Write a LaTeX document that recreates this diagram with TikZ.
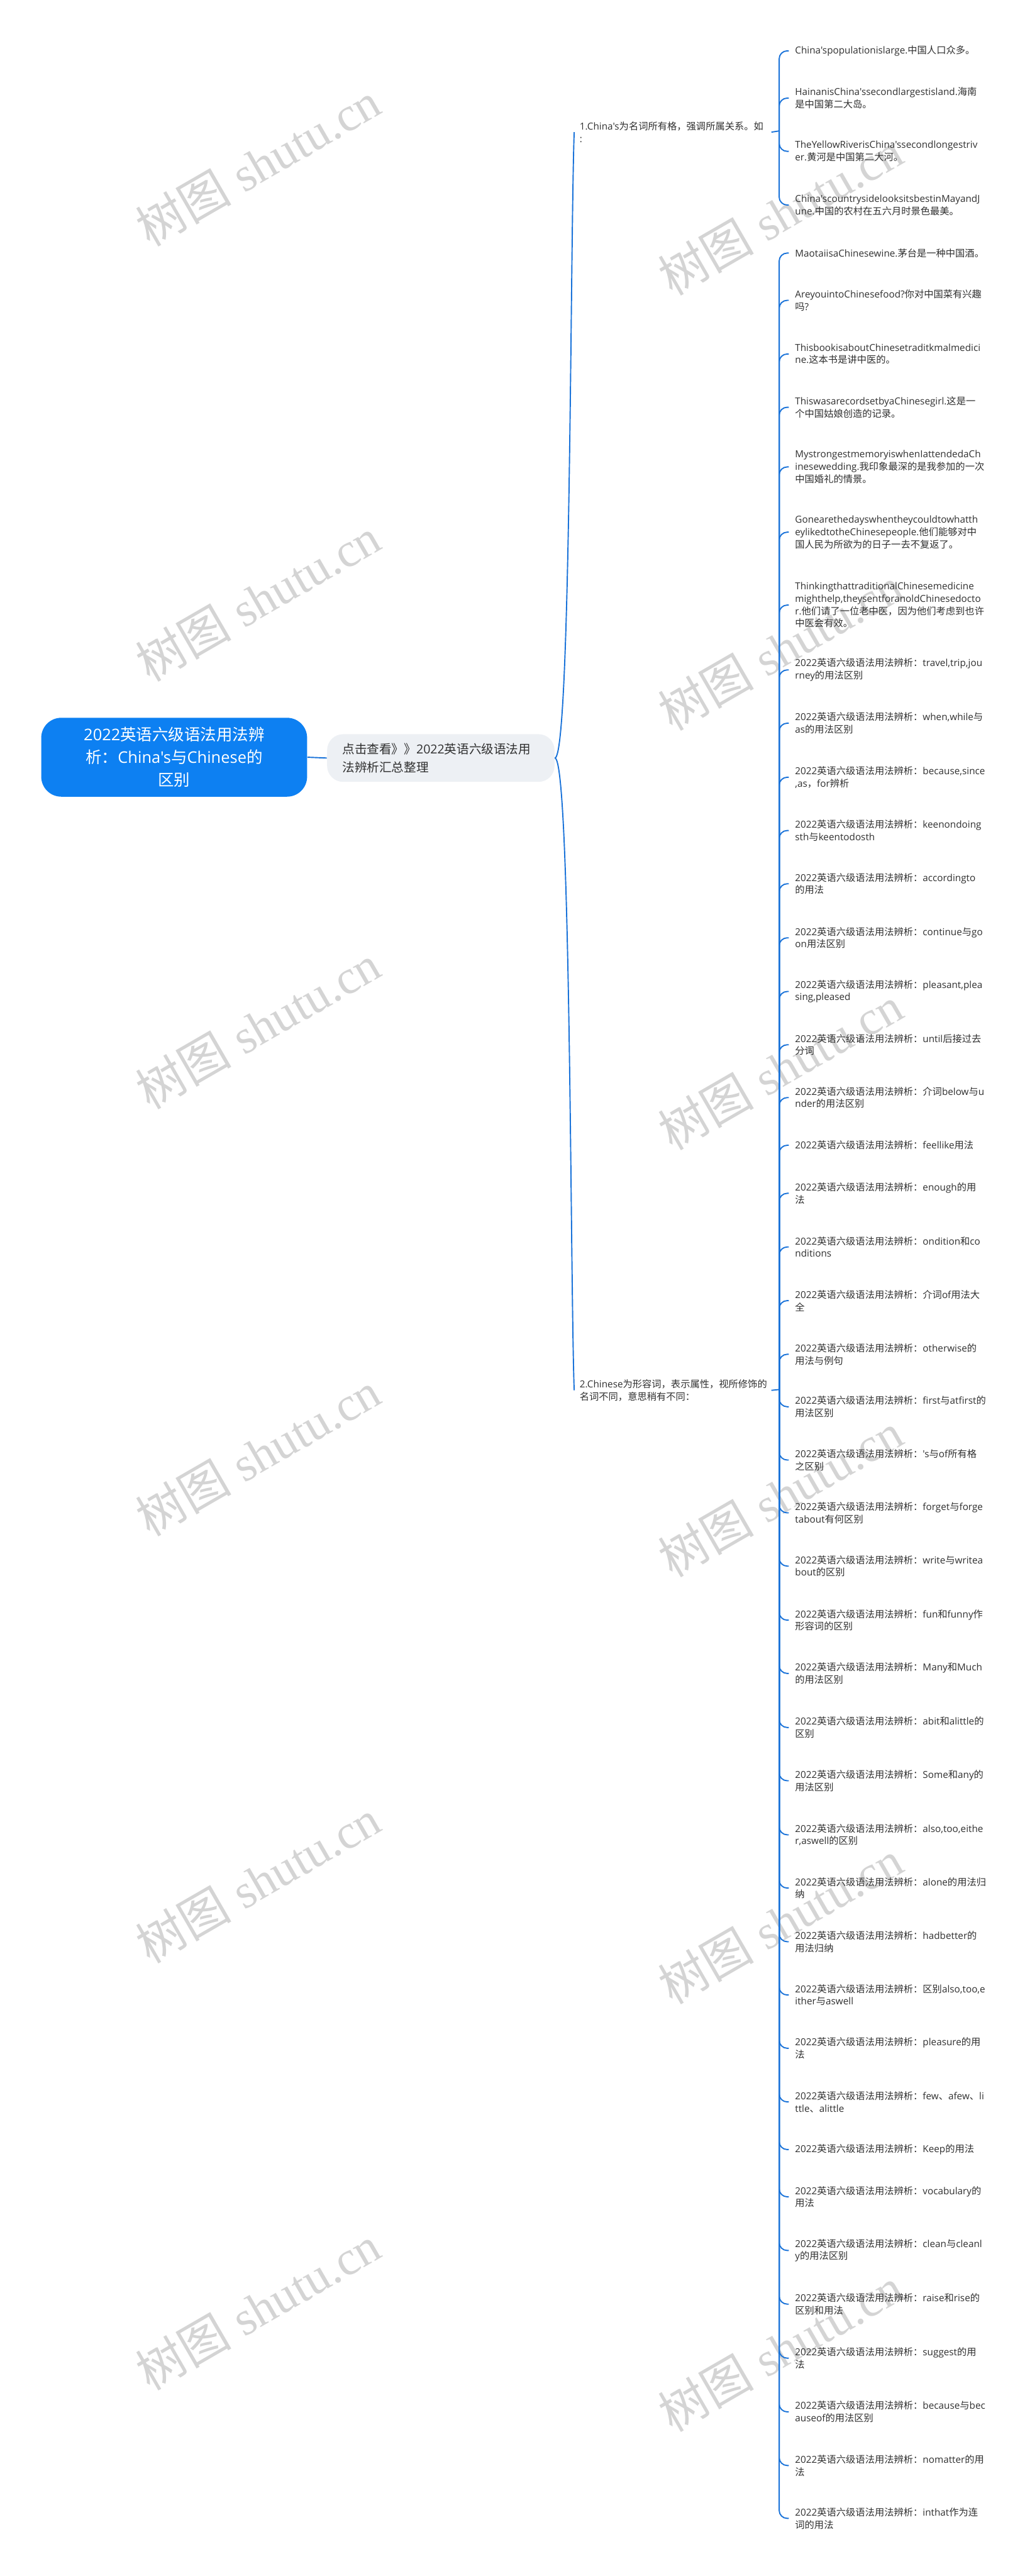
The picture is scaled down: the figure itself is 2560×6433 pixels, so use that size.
\documentclass[tikz,border=0pt]{standalone}
\usepackage{fontspec}
\newfontfamily\latf{Open Sans}
\newfontfamily\cjkf{Noto Sans CJK SC}
\newfontfamily\wmserif{Liberation Serif}
\XeTeXinterchartokenstate=1
\newXeTeXintercharclass\cjkcls
\newcount\cjkcc
\def\setcjkrange#1#2{\cjkcc=#1\relax\loop\XeTeXcharclass\cjkcc=\cjkcls\relax\ifnum\cjkcc<#2\advance\cjkcc by 1\repeat}
\setcjkrange{"3000}{"303F}
\setcjkrange{"4E00}{"9FFF}
\setcjkrange{"FF00}{"FFEF}
\XeTeXinterchartoks 0 \cjkcls = {\cjkf}
\XeTeXinterchartoks 4095 \cjkcls = {\cjkf}
\XeTeXinterchartoks \cjkcls 0 = {\latf}
\XeTeXinterchartoks \cjkcls 4095 = {\latf}
\definecolor{linec}{HTML}{1A73D9}
\definecolor{rootc}{HTML}{0D80F2}
\definecolor{midc}{HTML}{EDF0F4}
\definecolor{textc}{HTML}{303030}
\definecolor{wmc}{HTML}{D4D4D4}
\tikzset{
 conn/.style={draw=linec, line width=0.75pt, rounded corners=5pt},
 leafnode/.style={anchor=west, inner xsep=3.75pt, inner ysep=0pt, align=left, font=\latf\fontsize{6pt}{7.75pt}\selectfont, text=textc},
 branchnode/.style={anchor=west, inner xsep=3.25pt, inner ysep=0pt, align=left, text width=116.25pt, font=\latf\fontsize{6pt}{8pt}\selectfont, text=textc},
 rootnode/.style={fill=rootc, text=white, rounded corners=12.5pt, minimum width=166pt, minimum height=49.25pt, align=center, font=\latf\fontsize{10pt}{14.25pt}\selectfont, inner sep=0pt},
 midnode/.style={fill=midc, text=textc, rounded corners=10pt, minimum height=29.75pt, text width=123pt, inner xsep=9.5pt, align=left, font=\latf\fontsize{7.7pt}{11.5pt}\selectfont},
 wm/.style={text=wmc, rotate=30, font=\cjkf\fontsize{30pt}{30pt}\selectfont, inner sep=0pt}
}
\newcommand\lf[4]{\node[leafnode] (#1) at (1970,#2) {#3}; \draw[conn] (#4) |- (#1.west);}
\newcommand\gp{2022英语六级语法用法辨析：}
\begin{document}
\begin{tikzpicture}[x=0.25pt,y=-0.25pt]
\fill[white] (0,0) rectangle (2560,6433);
\useasboundingbox (0,0) rectangle (2560,6433);
% watermarks
\foreach \yy in {410,1497,2564,3631,4698,5764}{\node[wm] at (644,\yy) {树图 {\wmserif shutu.cn}};}
\foreach \yy in {533,1620,2667,3733,4800,5867}{\node[wm] at (1949,\yy) {树图 {\wmserif shutu.cn}};}
% main nodes
\node[rootnode] (root) at (435,1891) {2022英语六级语法用法辨\\析：China's与Chinese的\\区别};
\node[midnode] (mid) at (1101,1893) {点击查看》》2022英语六级语法用\\法辨析汇总整理};
\draw[conn] (root.east) -- (mid.west);
\node[branchnode] (b1) at (1434,330) {1.China's为名词所有格，强调所属关系。如\\:};
\node[branchnode] (b2) at (1434,3472) {2.Chinese为形容词，表示属性，视所修饰的\\名词不同，意思稍有不同：};
\draw[conn] (mid.east) .. controls +(40,0) and +(-10,300) .. (b1.west);
\draw[conn] (mid.east) .. controls +(40,0) and +(-10,-300) .. (b2.west);
\coordinate (s1) at (1946,327);
\coordinate (s2) at (1946,3470);
\draw[conn] (b1.east) -- (s1);
\draw[conn] (b2.east) -- (s2);
% branch 1 leaves
\lf{a1}{127}{China'spopulationislarge.中国人口众多。}{s1}
\lf{a2}{245}{HainanisChina'ssecondlargestisland.海南\\是中国第二大岛。}{s1}
\lf{a3}{378}{TheYellowRiverisChina'ssecondlongestriv\\er.黄河是中国第二大河。}{s1}
\lf{a4}{512}{China'scountrysidelooksitsbestinMayandJ\\une.中国的农村在五六月时景色最美。}{s1}
% branch 2 leaves
\lf{c1}{632}{MaotaiisaChinesewine.茅台是一种中国酒。}{s2}
\lf{c2}{750}{AreyouintoChinesefood?你对中国菜有兴趣\\吗?}{s2}
\lf{c3}{884}{ThisbookisaboutChinesetraditkmalmedici\\ne.这本书是讲中医的。}{s2}
\lf{c4}{1017}{ThiswasarecordsetbyaChinesegirl.这是一\\个中国姑娘创造的记录。}{s2}
\lf{c5}{1166}{MystrongestmemoryiswhenIattendedaCh\\inesewedding.我印象最深的是我参加的一次\\中国婚礼的情景。}{s2}
\lf{c6}{1329}{Gonearethedayswhentheycouldtowhatth\\eylikedtotheChinesepeople.他们能够对中\\国人民为所欲为的日子一去不复返了。}{s2}
\lf{c7}{1511}{ThinkingthattraditionalChinesemedicine\\mighthelp,theysentforanoldChinesedocto\\r.他们请了一位老中医，因为他们考虑到也许\\中医会有效。}{s2}
\lf{g1}{1673}{\gp travel,trip,jou\\rney的用法区别}{s2}
\lf{g2}{1806}{\gp when,while与\\as的用法区别}{s2}
\lf{g3}{1941}{\gp because,since\\,as，for辨析}{s2}
\lf{g4}{2074}{\gp keenondoing\\sth与keentodosth}{s2}
\lf{g5}{2207}{\gp accordingto\\的用法}{s2}
\lf{g6}{2342}{\gp continue与go\\on用法区别}{s2}
\lf{g7}{2476}{\gp pleasant,plea\\sing,pleased}{s2}
\lf{g8}{2609}{\gp until后接过去\\分词}{s2}
\lf{g9}{2741}{\gp 介词below与u\\nder的用法区别}{s2}
\lf{g10}{2860}{\gp feellike用法}{s2}
\lf{g11}{2980}{\gp enough的用\\法}{s2}
\lf{g12}{3114}{\gp ondition和co\\nditions}{s2}
\lf{g13}{3248}{\gp 介词of用法大\\全}{s2}
\lf{g14}{3382}{\gp otherwise的\\用法与例句}{s2}
\lf{g15}{3513}{\gp first与atfirst的\\用法区别}{s2}
\lf{g16}{3646}{\gp 's与of所有格\\之区别}{s2}
\lf{g17}{3778}{\gp forget与forge\\tabout有何区别}{s2}
\lf{g18}{3911}{\gp write与writea\\bout的区别}{s2}
\lf{g19}{4046}{\gp fun和funny作\\形容词的区别}{s2}
\lf{g20}{4179}{\gp Many和Much\\的用法区别}{s2}
\lf{g21}{4314}{\gp abit和alittle的\\区别}{s2}
\lf{g22}{4447}{\gp Some和any的\\用法区别}{s2}
\lf{g23}{4582}{\gp also,too,eithe\\r,aswell的区别}{s2}
\lf{g24}{4715}{\gp alone的用法归\\纳}{s2}
\lf{g25}{4849}{\gp hadbetter的\\用法归纳}{s2}
\lf{g26}{4982}{\gp 区别also,too,e\\ither与aswell}{s2}
\lf{g27}{5115}{\gp pleasure的用\\法}{s2}
\lf{g28}{5249}{\gp few、afew、li\\ttle、alittle}{s2}
\lf{g29}{5368}{\gp Keep的用法}{s2}
\lf{g30}{5486}{\gp vocabulary的\\用法}{s2}
\lf{g31}{5620}{\gp clean与cleanl\\y的用法区别}{s2}
\lf{g32}{5754}{\gp raise和rise的\\区别和用法}{s2}
\lf{g33}{5889}{\gp suggest的用\\法}{s2}
\lf{g34}{6023}{\gp because与bec\\auseof的用法区别}{s2}
\lf{g35}{6157}{\gp nomatter的用\\法}{s2}
\lf{g36}{6289}{\gp inthat作为连\\词的用法}{s2}
\end{tikzpicture}
\end{document}
